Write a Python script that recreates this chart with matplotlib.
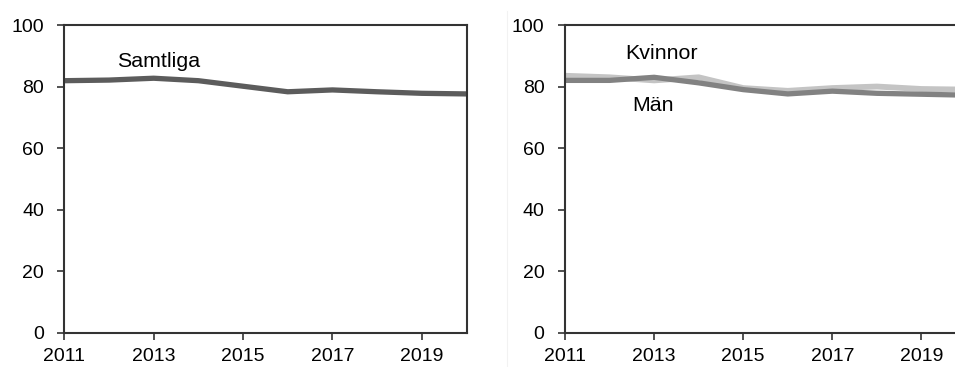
import matplotlib
matplotlib.use("Agg")
import matplotlib.pyplot as plt
from matplotlib.lines import Line2D

years = [2011, 2012, 2013, 2014, 2015, 2016, 2017, 2018, 2019, 2020]
samtliga = [81.9, 82.1, 82.7, 81.9, 80.1, 78.3, 78.9, 78.3, 77.8, 77.6]
kvinnor = [83.5, 83.0, 82.0, 83.0, 79.5, 78.6, 79.5, 80.0, 79.2, 79.0]
man = [82.0, 82.0, 83.0, 81.2, 79.0, 77.6, 78.5, 77.8, 77.5, 77.2]
xticks = [2011, 2013, 2015, 2017, 2019]
yticks = [0, 20, 40, 60, 80, 100]

plt.rcParams['font.family'] = ['Liberation Sans', 'DejaVu Sans']
W, H = 955, 367
FS_TICK = 14
FS_TXT = 15.4
fig = plt.figure(figsize=(W / 100, H / 100), dpi=100)
fig.lines.append(Line2D([507 / W, 507 / W], [0, 0.97], transform=fig.transFigure,
                        color='#f2f2f2', lw=0.8))

bottom = 1 - 332.7 / H
top = 1 - 25 / H
ax1 = fig.add_axes([64.3 / W, bottom, (466.5 - 64.3) / W, top - bottom])
ax2 = fig.add_axes([565 / W, bottom, (966 - 565) / W, top - bottom])

for ax in (ax1, ax2):
    ax.set_xlim(2011, 2020)
    ax.set_ylim(0, 100)
    ax.set_xticks(xticks)
    ax.set_yticks(yticks)
    ax.tick_params(axis='both', direction='out', length=4.7, width=1.2,
                   color='#333333', labelsize=FS_TICK, labelcolor='#000000')
    ax.tick_params(axis='y', pad=10)
    ax.tick_params(axis='x', pad=6.5)
    for s in ax.spines.values():
        s.set_linewidth(1.5)
        s.set_color('#333333')

ax1.plot(years, samtliga, color='#5c5c5c', lw=3.8, solid_capstyle='butt')
ax1.text(2012.18, 86.4, 'Samtliga', fontsize=FS_TXT, color='#000000', va='baseline')

ax2.plot(years, kvinnor, color='#c4c4c4', lw=4.2, solid_capstyle='butt')
ax2.plot(years, man, color='#828282', lw=3.8, solid_capstyle='butt')
ax2.text(2012.35, 88.9, 'Kvinnor', fontsize=FS_TXT, color='#000000', va='baseline')
ax2.text(2012.5, 72.1, 'Män', fontsize=FS_TXT, color='#000000', va='baseline')

fig.savefig('out.png', dpi=100)
